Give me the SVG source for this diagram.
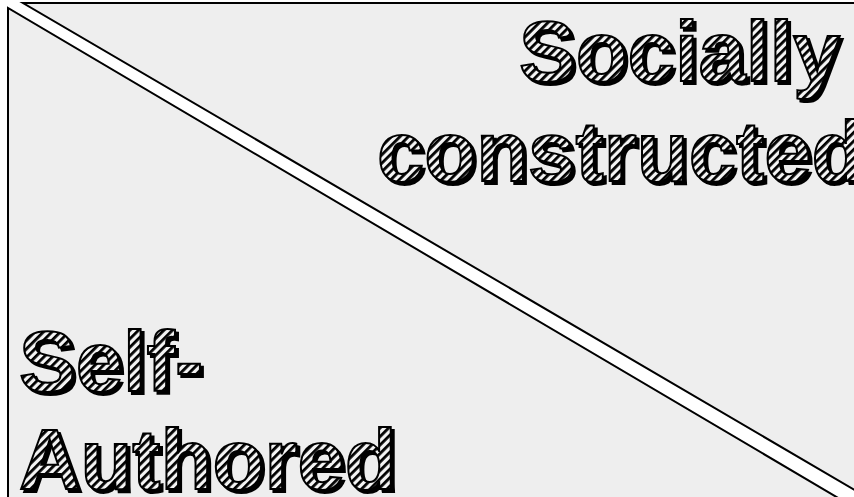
<svg xmlns="http://www.w3.org/2000/svg" width="854" height="497" viewBox="0 0 854 497">
<defs>
<pattern id="hatch" patternUnits="userSpaceOnUse" width="6" height="6" patternTransform="rotate(45)">
<rect x="0" y="0" width="6" height="6" fill="#f4f4f4"/>
<rect x="0" y="0" width="2.8" height="6" fill="#000"/>
</pattern>
<filter id="shadow" x="-5%" y="-10%" width="115%" height="130%">
<feOffset in="SourceAlpha" dx="3" dy="3" result="off"/>
<feMerge>
<feMergeNode in="off"/>
<feMergeNode in="SourceGraphic"/>
</feMerge>
</filter>
</defs>
<style>
.region{fill:#eeeeee;stroke:#000;stroke-width:2;stroke-linejoin:miter}
.lbl{font-family:"Liberation Sans",Arial,sans-serif;font-weight:bold;font-size:85px;fill:url(#hatch);stroke:#000;stroke-width:2;filter:url(#shadow)}
</style>
<rect width="854" height="497" fill="#ffffff"/>
<g id="social">
<polygon class="region" points="23,3 858,3 858,492"/>
<text class="lbl" x="519" y="81">Socially</text>
<text class="lbl" x="377" y="181">constructed</text>
</g>
<g id="self">
<polygon class="region" points="8,8 8,502 845,502"/>
<text class="lbl" x="19" y="391">Self-</text>
<text class="lbl" x="19" y="489">Authored</text>
</g>
</svg>
